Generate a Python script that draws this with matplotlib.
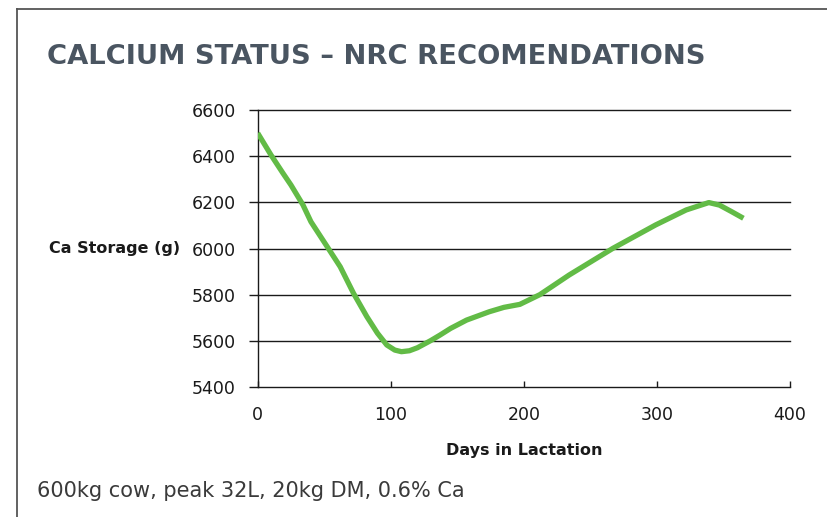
import matplotlib
matplotlib.use("Agg")
import matplotlib.pyplot as plt
from matplotlib.lines import Line2D
from matplotlib.transforms import blended_transform_factory

# ---- data ----
days = [0, 10, 19, 25, 34, 40, 53, 62, 72, 82, 90, 97, 103, 108, 114, 120, 130,
        137, 145, 157, 174, 185, 197, 212, 234, 267, 299, 322, 339, 347, 356, 365]
ca_storage = [6500, 6405, 6326, 6275, 6189, 6116, 6001, 5921, 5806, 5705, 5633, 5582,
              5560, 5553, 5557, 5570, 5601, 5625, 5654, 5690, 5726, 5745, 5758, 5800,
              5885, 6001, 6102, 6167, 6199, 6188, 6160, 6131]
x_ticks = [0, 100, 200, 300, 400]
y_ticks = [5400, 5600, 5800, 6000, 6200, 6400, 6600]

title = "CALCIUM STATUS \u2013 NRC RECOMENDATIONS"
y_label = "Ca Storage (g)"
x_label = "Days in Lactation"
footer = "600kg cow, peak 32L, 20kg DM, 0.6% Ca"

W, H = 827, 517
fig = plt.figure(figsize=(W / 100, H / 100), dpi=100)
fig.patch.set_facecolor("white")

# frame lines (top and left)
fig.add_artist(Line2D([17 / W, 1.0], [1 - 9 / H, 1 - 9 / H], color="#555555", lw=1.3,
                      transform=fig.transFigure))
fig.add_artist(Line2D([17 / W, 17 / W], [0, 1 - 9 / H], color="#555555", lw=1.3,
                      transform=fig.transFigure))

left, right = 257.7 / W, 790 / W
bottom, top = 1 - 387 / H, 1 - 110 / H
ax = fig.add_axes([left, bottom, right - left, top - bottom])
ax.set_xlim(0, 400)
ax.set_ylim(5400, 6600)

for v in y_ticks[1:]:
    ax.axhline(v, color="#1a1a1a", lw=1.0, zorder=1, clip_on=False)

ax.plot(days, ca_storage, color="#62bb46", lw=3.8, solid_joinstyle="round",
        solid_capstyle="butt", zorder=3)

for s in ["top", "right"]:
    ax.spines[s].set_visible(False)
for s in ["left", "bottom"]:
    ax.spines[s].set_color("#1a1a1a")
    ax.spines[s].set_linewidth(1.0)

ax.set_xticks(x_ticks)
ax.set_yticks(y_ticks)
ax.tick_params(axis="y", direction="out", length=6.5, width=1.0, pad=9.4,
               labelsize=12.5, colors="#1a1a1a")
ax.tick_params(axis="x", direction="in", length=4.3, width=1.0, pad=14,
               labelsize=12.5, colors="#1a1a1a")

fig.text(47 / W, 1 - 57 / H, title, fontsize=19.7, fontweight="bold",
         color="#4a5561", ha="left", va="center")

trans = blended_transform_factory(fig.transFigure, ax.transData)
ax.text(180 / W, 6000, y_label, transform=trans, ha="right", va="center",
        fontsize=11.5, fontweight="bold", color="#1a1a1a")

fig.text((left + right) / 2, 1 - 450 / H, x_label, ha="center", va="center",
         fontsize=11.5, fontweight="bold", color="#1a1a1a")

fig.text(37 / W, 1 - 491 / H, footer, ha="left", va="center", fontsize=15,
         color="#3a3a3a")

fig.savefig("out.png", dpi=100, facecolor="white")
